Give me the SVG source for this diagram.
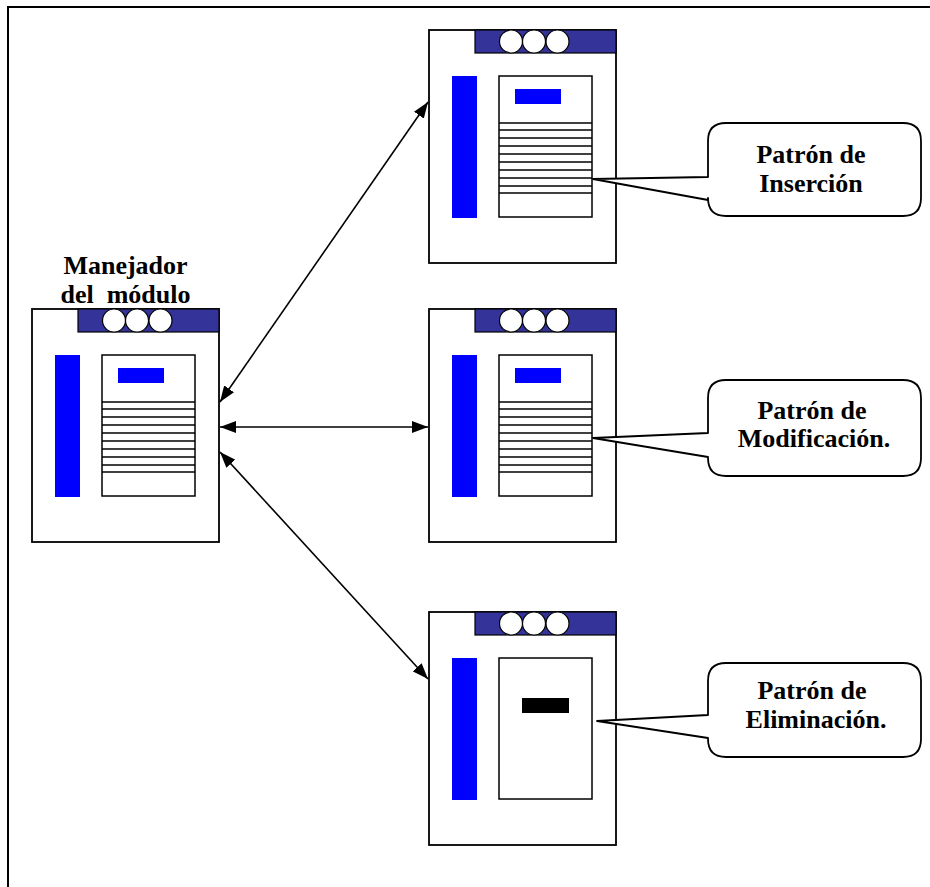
<svg xmlns="http://www.w3.org/2000/svg" xmlns:xlink="http://www.w3.org/1999/xlink" width="930" height="887" viewBox="0 0 930 887">
  <style>
    .frame { fill: none; stroke: #000; stroke-width: 2; }
    .win { fill: #fff; stroke: #000; stroke-width: 1.8; }
    .bar { fill: #333399; stroke: #000; stroke-width: 1.2; }
    .dot { fill: #fff; stroke: #000; stroke-width: 1.2; }
    .blue { fill: #0000ff; }
    .doc { fill: #fff; stroke: #000; stroke-width: 1.5; }
    .rule { stroke: #000; stroke-width: 1.6; }
    .conn { stroke: #000; stroke-width: 1.6; fill: none; }
    .callout { fill: #fff; stroke: #000; stroke-width: 1.8; stroke-linejoin: round; }
    .lbl { font-family: "Liberation Serif", "Times New Roman", serif; font-weight: bold; font-size: 26px; fill: #000; text-anchor: middle; }
  </style>
  <defs>
    <marker id="ah" viewBox="0 0 16 12" refX="16" refY="6" markerWidth="16" markerHeight="12" markerUnits="userSpaceOnUse" orient="auto-start-reverse">
      <path d="M0,0 L16,6 L0,12 z" fill="#000"/>
    </marker>
    <g id="win">
      <rect class="win" x="0" y="0" width="187" height="233"/>
      <rect class="bar" x="46" y="0" width="141" height="23"/>
      <circle class="dot" cx="82" cy="11.5" r="11.5"/>
      <circle class="dot" cx="105" cy="11.5" r="11.5"/>
      <circle class="dot" cx="128.5" cy="11.5" r="11.5"/>
      <rect class="blue" x="23" y="46" width="25" height="142"/>
      <rect class="doc" x="70" y="46" width="93" height="141"/>
    </g>
    <g id="lines">
      <rect class="blue" x="86" y="59" width="46" height="15"/>
      <line class="rule" x1="70" y1="93" x2="163" y2="93"/>
      <line class="rule" x1="70" y1="100" x2="163" y2="100"/>
      <line class="rule" x1="70" y1="108" x2="163" y2="108"/>
      <line class="rule" x1="70" y1="116" x2="163" y2="116"/>
      <line class="rule" x1="70" y1="124" x2="163" y2="124"/>
      <line class="rule" x1="70" y1="132" x2="163" y2="132"/>
      <line class="rule" x1="70" y1="140" x2="163" y2="140"/>
      <line class="rule" x1="70" y1="148" x2="163" y2="148"/>
      <line class="rule" x1="70" y1="156" x2="163" y2="156"/>
      <line class="rule" x1="70" y1="163" x2="163" y2="163"/>
    </g>
  </defs>

  <rect class="frame" x="8" y="7" width="1000" height="1000"/>

  <g id="node-manejador">
    <text class="lbl" x="125.5" y="274">Manejador</text>
    <text class="lbl" x="125.5" y="303" xml:space="preserve">del  módulo</text>
    <g transform="translate(32,309)">
      <use xlink:href="#win" href="#win"/>
      <use xlink:href="#lines" href="#lines"/>
    </g>
  </g>

  <g id="node-insercion" transform="translate(429,30)">
    <use xlink:href="#win" href="#win"/>
    <use xlink:href="#lines" href="#lines"/>
  </g>

  <g id="node-modificacion" transform="translate(429,309)">
    <use xlink:href="#win" href="#win"/>
    <use xlink:href="#lines" href="#lines"/>
  </g>

  <g id="node-eliminacion" transform="translate(429,612)">
    <use xlink:href="#win" href="#win"/>
    <rect x="93" y="86" width="47" height="15" fill="#000"/>
  </g>

  <g id="connectors">
    <line class="conn" x1="220" y1="402" x2="428" y2="102" marker-start="url(#ah)" marker-end="url(#ah)"/>
    <line class="conn" x1="220" y1="427" x2="428" y2="427" marker-start="url(#ah)" marker-end="url(#ah)"/>
    <line class="conn" x1="220" y1="452" x2="428" y2="679" marker-start="url(#ah)" marker-end="url(#ah)"/>
  </g>

  <g id="callout-insercion">
    <path class="callout" d="M726,123 H903 Q921,123 921,141 V198 Q921,216 903,216 H726 Q708,216 708,198 V200 L593,179 L708,177 V141 Q708,123 726,123 Z"/>
    <text class="lbl" x="811" y="163">Patrón de</text>
    <text class="lbl" x="811" y="192">Inserción</text>
  </g>

  <g id="callout-modificacion">
    <path class="callout" d="M726,380 H903 Q921,380 921,398 V458 Q921,476 903,476 H726 Q708,476 708,458 V457 L593,438 L708,433 V398 Q708,380 726,380 Z"/>
    <text class="lbl" x="812" y="419">Patrón de</text>
    <text class="lbl" x="814" y="447">Modificación.</text>
  </g>

  <g id="callout-eliminacion">
    <path class="callout" d="M726,663 H903 Q921,663 921,681 V739 Q921,757 903,757 H726 Q708,757 708,739 V738 L597,721 L708,715 V681 Q708,663 726,663 Z"/>
    <text class="lbl" x="812" y="699">Patrón de</text>
    <text class="lbl" x="816" y="728">Eliminación.</text>
  </g>
</svg>
